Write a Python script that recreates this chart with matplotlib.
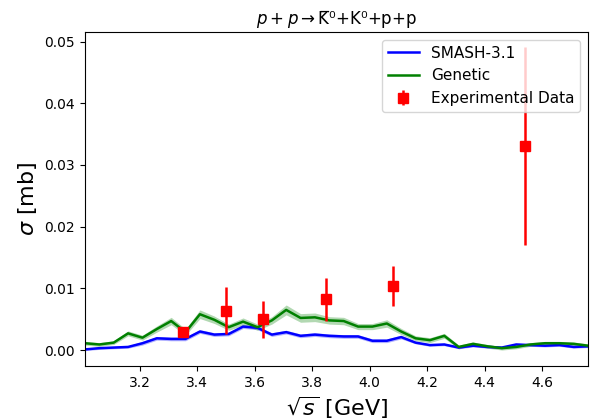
import numpy as np
import matplotlib
matplotlib.use("Agg")
import matplotlib.pyplot as plt

# sqrt(s) grid of the model curves [GeV]
sqrts = [3.01, 3.06, 3.11, 3.16, 3.21, 3.26, 3.31, 3.36, 3.41, 3.46,
         3.51, 3.56, 3.61, 3.66, 3.71, 3.76, 3.81, 3.86, 3.91, 3.96,
         4.01, 4.06, 4.11, 4.16, 4.21, 4.26, 4.31, 4.36, 4.41, 4.46,
         4.51, 4.56, 4.61, 4.66, 4.71, 4.76]

smash = [0.0001, 0.0003, 0.0004, 0.0005, 0.0011, 0.0019, 0.0018, 0.0018, 0.0030, 0.0025,
         0.0026, 0.0038, 0.0036, 0.0025, 0.0029, 0.0023, 0.0025, 0.0023, 0.0022, 0.0022,
         0.0015, 0.0015, 0.0021, 0.0012, 0.0008, 0.0009, 0.0004, 0.0007, 0.0005, 0.0004,
         0.0009, 0.0008, 0.0007, 0.0008, 0.0005, 0.0006]
smash_err = [0.0002, 0.0002, 0.0002, 0.0002, 0.0003, 0.0003, 0.0003, 0.0003, 0.0003, 0.0003,
             0.0003, 0.0003, 0.0003, 0.0003, 0.0003, 0.0003, 0.0003, 0.0003, 0.0003, 0.0003,
             0.0003, 0.0003, 0.0003, 0.0002, 0.0002, 0.0002, 0.0002, 0.0002, 0.0002, 0.0002,
             0.0002, 0.0002, 0.0002, 0.0002, 0.0002, 0.0002]

genetic = [0.0011, 0.0009, 0.0012, 0.0027, 0.0020, 0.0034, 0.0047, 0.0029, 0.0058, 0.0049,
           0.0037, 0.0046, 0.0037, 0.0048, 0.0065, 0.0052, 0.0053, 0.0048, 0.0047, 0.0038,
           0.0038, 0.0043, 0.0030, 0.0019, 0.0016, 0.0023, 0.0005, 0.0010, 0.0006, 0.0003,
           0.0005, 0.0009, 0.0011, 0.0011, 0.0010, 0.0007]
genetic_err = [0.0003, 0.0003, 0.0003, 0.0004, 0.0004, 0.0005, 0.0006, 0.0005, 0.0007, 0.0006,
               0.0005, 0.0006, 0.0005, 0.0006, 0.0008, 0.0007, 0.0007, 0.0006, 0.0006, 0.0005,
               0.0005, 0.0006, 0.0005, 0.0004, 0.0004, 0.0004, 0.0003, 0.0003, 0.0003, 0.0003,
               0.0003, 0.0003, 0.0003, 0.0003, 0.0003, 0.0003]

# experimental points
exp_x = [3.35, 3.50, 3.63, 3.85, 4.08, 4.54]
exp_y = [0.0030, 0.0064, 0.0050, 0.0082, 0.0104, 0.0331]
exp_err = [0.0005, 0.0038, 0.0030, 0.0035, 0.0033, 0.0160]

x = np.array(sqrts)
s = np.array(smash)
se = np.array(smash_err)
g = np.array(genetic)
ge = np.array(genetic_err)

fig, ax = plt.subplots(figsize=(5.94, 4.2), dpi=100)
fig.subplots_adjust(left=0.143, right=0.99, top=0.924, bottom=0.129)

ax.plot(x, s, color="blue", lw=1.8, label="SMASH-3.1")
ax.fill_between(x, s - se, s + se, color="blue", alpha=0.3, lw=0)
ax.plot(x, g, color="green", lw=1.8, label="Genetic")
ax.fill_between(x, g - ge, g + ge, color="green", alpha=0.3, lw=0)
ax.errorbar(exp_x, exp_y, yerr=exp_err, fmt="s", color="red", ms=7,
            elinewidth=1.8, label="Experimental Data")

ax.set_xlim(sqrts[0], sqrts[-1])
ax.set_xlabel(r"$\sqrt{s}$ [GeV]", fontsize=16)
ax.set_ylabel(r"$\sigma$ [mb]", fontsize=16)
ax.set_title("$p + p \\rightarrow$K\u0305\u2070+K\u2070+p+p", fontsize=12)
ax.legend(loc="upper right", fontsize=11)

fig.savefig("out.png", dpi=100)
